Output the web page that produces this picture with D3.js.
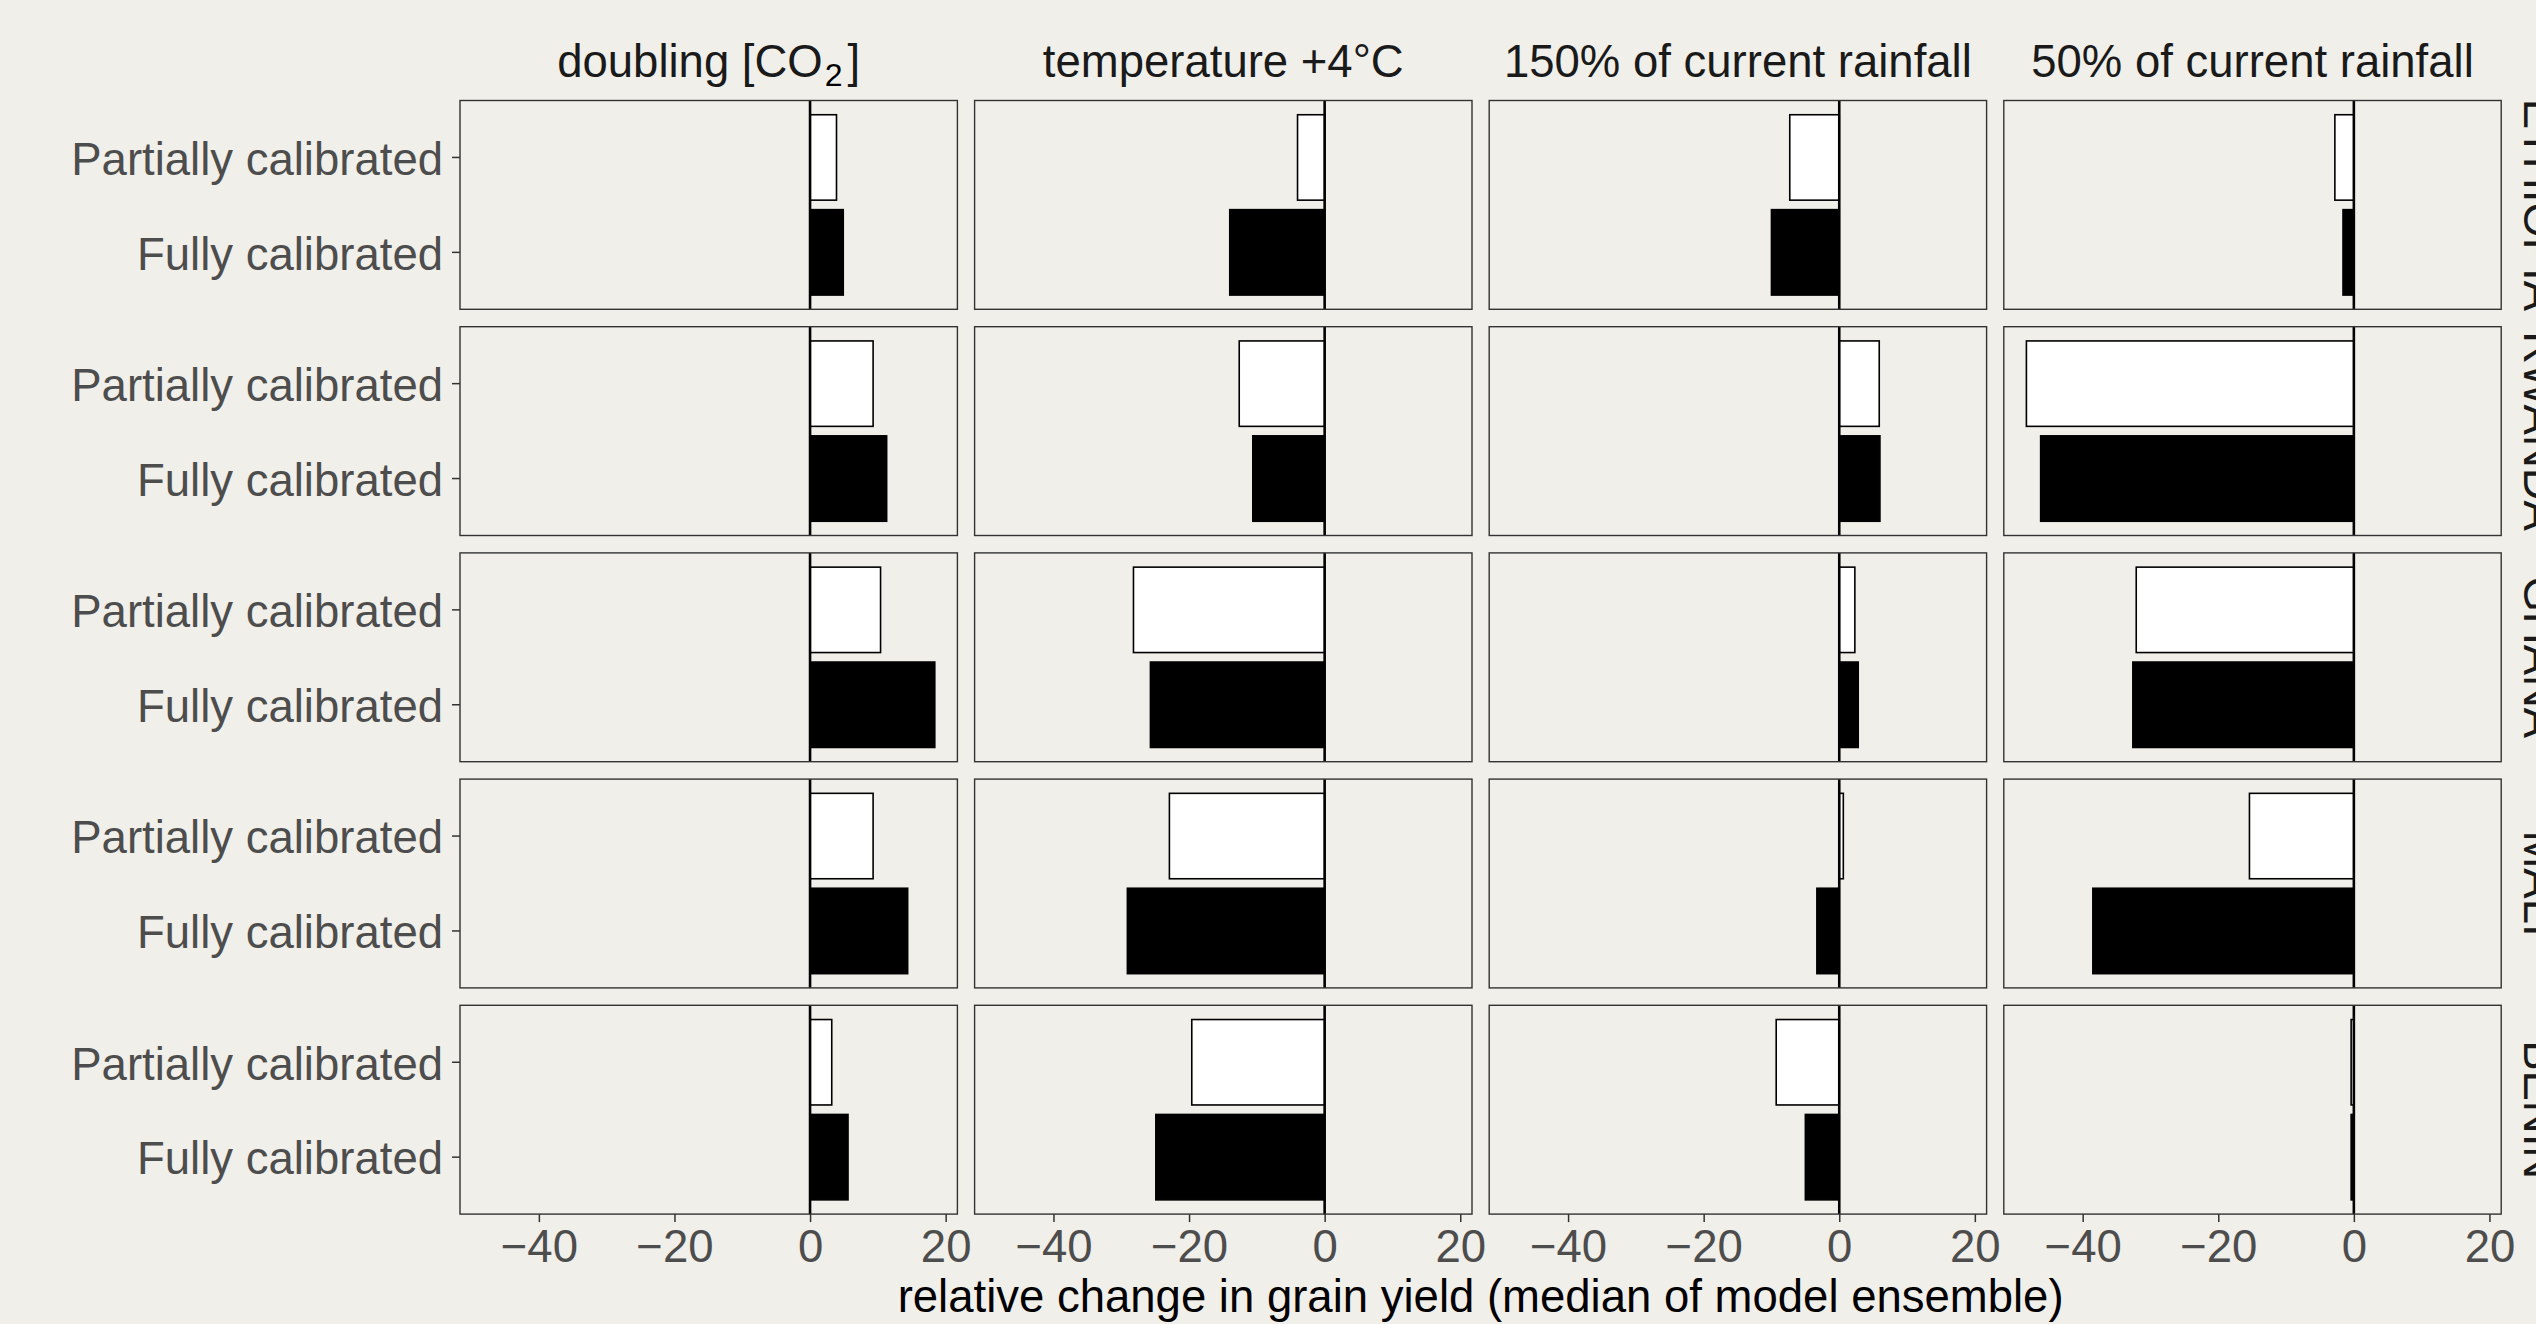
<!DOCTYPE html>
<html>
<head>
<meta charset="utf-8">
<script src="https://cdn.jsdelivr.net/npm/d3@7"></script>
<style>
  html, body { margin: 0; padding: 0; background: #f0efe9; }
  svg { display: block; }
  text { font-family: "Liberation Sans", Arial, Helvetica, sans-serif; }
</style>
</head>
<body>
<svg id="chart" width="2536" height="1324"></svg>
<script>
// ---------------- DATA ----------------
const scenarios = ["doubling [CO2]", "temperature +4°C", "150% of current rainfall", "50% of current rainfall"];
const countries = ["ETHIOPIA", "RWANDA", "GHANA", "MALI", "BENIN"];
const calibrations = ["Partially calibrated", "Fully calibrated"];

// values per country (rows) and scenario (columns)
const partiallyCalibrated = [
  [3.9, -4.0, -7.3, -2.8],    // ETHIOPIA
  [9.3, -12.6, 5.9, -48.3],   // RWANDA
  [10.4, -28.2, 2.3, -32.1],  // GHANA
  [9.3, -22.9, 0.6, -15.4],   // MALI
  [3.2, -19.6, -9.3, -0.4]    // BENIN
];
const fullyCalibrated = [
  [4.9, -14.0, -10.0, -1.6],  // ETHIOPIA
  [11.3, -10.6, 6.0, -46.2],  // RWANDA
  [18.4, -25.7, 2.8, -32.6],  // GHANA
  [14.4, -29.1, -3.3, -38.5], // MALI
  [5.6, -24.9, -5.0, -0.4]    // BENIN
];
const xTicks = [-40, -20, 0, 20];
const xTitle = "relative change in grain yield (median of model ensemble)";

// ---------------- LAYOUT ----------------
const svg = d3.select("#chart");
const leftX = 460, topY = 100.5;
const pw = 497.4, ph = 208.8, gx = 17.2, gy = 17.4;
const fs = 45.5;
const tickCol = "#333333", labCol = "#4d4d4d", stripCol = "#1a1a1a";

const all = partiallyCalibrated.flat().concat(fullyCalibrated.flat(), [0]);
const dmin = d3.min(all), dmax = d3.max(all), R = dmax - dmin;
const x = d3.scaleLinear().domain([dmin - 0.05 * R, dmax + 0.05 * R]).range([0, pw]);
const y = d3.scaleBand().domain(calibrations).range([0, ph]).paddingInner(0.1).paddingOuter(0.15);

const valuesFor = [partiallyCalibrated, fullyCalibrated];

countries.forEach((country, r) => {
  scenarios.forEach((sc, c) => {
    const g = svg.append("g")
      .attr("transform", `translate(${leftX + c * (pw + gx)},${topY + r * (ph + gy)})`);

    const rows = calibrations.map((cal, k) => ({ cal, v: valuesFor[k][r][c], k }));

    g.selectAll("rect.bar").data(rows).enter().append("rect")
      .attr("class", "bar")
      .attr("x", d => x(Math.min(0, d.v)))
      .attr("width", d => Math.abs(x(d.v) - x(0)))
      .attr("y", d => y(d.cal))
      .attr("height", y.bandwidth())
      .attr("fill", d => d.k === 0 ? "#ffffff" : "#000000")
      .attr("stroke", "#000000")
      .attr("stroke-width", 1.6);

    // zero line
    g.append("line")
      .attr("x1", x(0)).attr("x2", x(0))
      .attr("y1", 0).attr("y2", ph)
      .attr("stroke", "#000").attr("stroke-width", 2.6);

    // panel border
    g.append("rect")
      .attr("x", 0).attr("y", 0).attr("width", pw).attr("height", ph)
      .attr("fill", "none").attr("stroke", tickCol).attr("stroke-width", 1.4);

    // bottom axis
    if (r === countries.length - 1) {
      const ax = g.append("g").attr("transform", `translate(0,${ph})`)
        .call(d3.axisBottom(x).tickValues(xTicks).tickSize(8).tickPadding(8).tickFormat(d3.format("d")));
      ax.select(".domain").remove();
      ax.selectAll(".tick line").attr("stroke", tickCol).attr("stroke-width", 1.5);
      ax.selectAll(".tick text").attr("fill", labCol).style("font-size", fs + "px")
        .style("font-family", '"Liberation Sans", Arial, sans-serif');
    }
    // left axis
    if (c === 0) {
      const ay = g.append("g").call(d3.axisLeft(y).tickSize(8).tickPadding(9));
      ay.select(".domain").remove();
      ay.selectAll(".tick line").attr("stroke", tickCol).attr("stroke-width", 1.5);
      ay.selectAll(".tick text").attr("fill", labCol).attr("dy", "0.38em").style("font-size", fs + "px")
        .style("font-family", '"Liberation Sans", Arial, sans-serif');
    }
  });

  // right strip label (rotated, clipped by page edge)
  const cy = topY + r * (ph + gy) + ph / 2;
  svg.append("text")
    .attr("transform", `translate(2524,${cy}) rotate(90)`)
    .attr("text-anchor", "middle")
    .attr("fill", stripCol)
    .style("font-size", fs + "px")
    .text(country);
});

// top strip labels
scenarios.forEach((sc, c) => {
  const cx = leftX + c * (pw + gx) + pw / 2;
  const t = svg.append("text")
    .attr("x", cx).attr("y", 76.5)
    .attr("text-anchor", "middle")
    .attr("fill", stripCol)
    .style("font-size", fs + "px");
  if (sc === "doubling [CO2]") {
    t.append("tspan").text("doubling [CO");
    t.append("tspan").attr("dy", 9).attr("dx", 2).style("font-size", "32px").attr("fill", "#000").text("2");
    t.append("tspan").attr("dy", -9).attr("dx", 5).text("]");
  } else {
    t.text(sc);
  }
});

// x-axis title
svg.append("text")
  .attr("x", leftX + (4 * pw + 3 * gx) / 2)
  .attr("y", 1312)
  .attr("text-anchor", "middle")
  .attr("fill", "#000")
  .style("font-size", fs + "px")
  .text(xTitle);
</script>
</body>
</html>
